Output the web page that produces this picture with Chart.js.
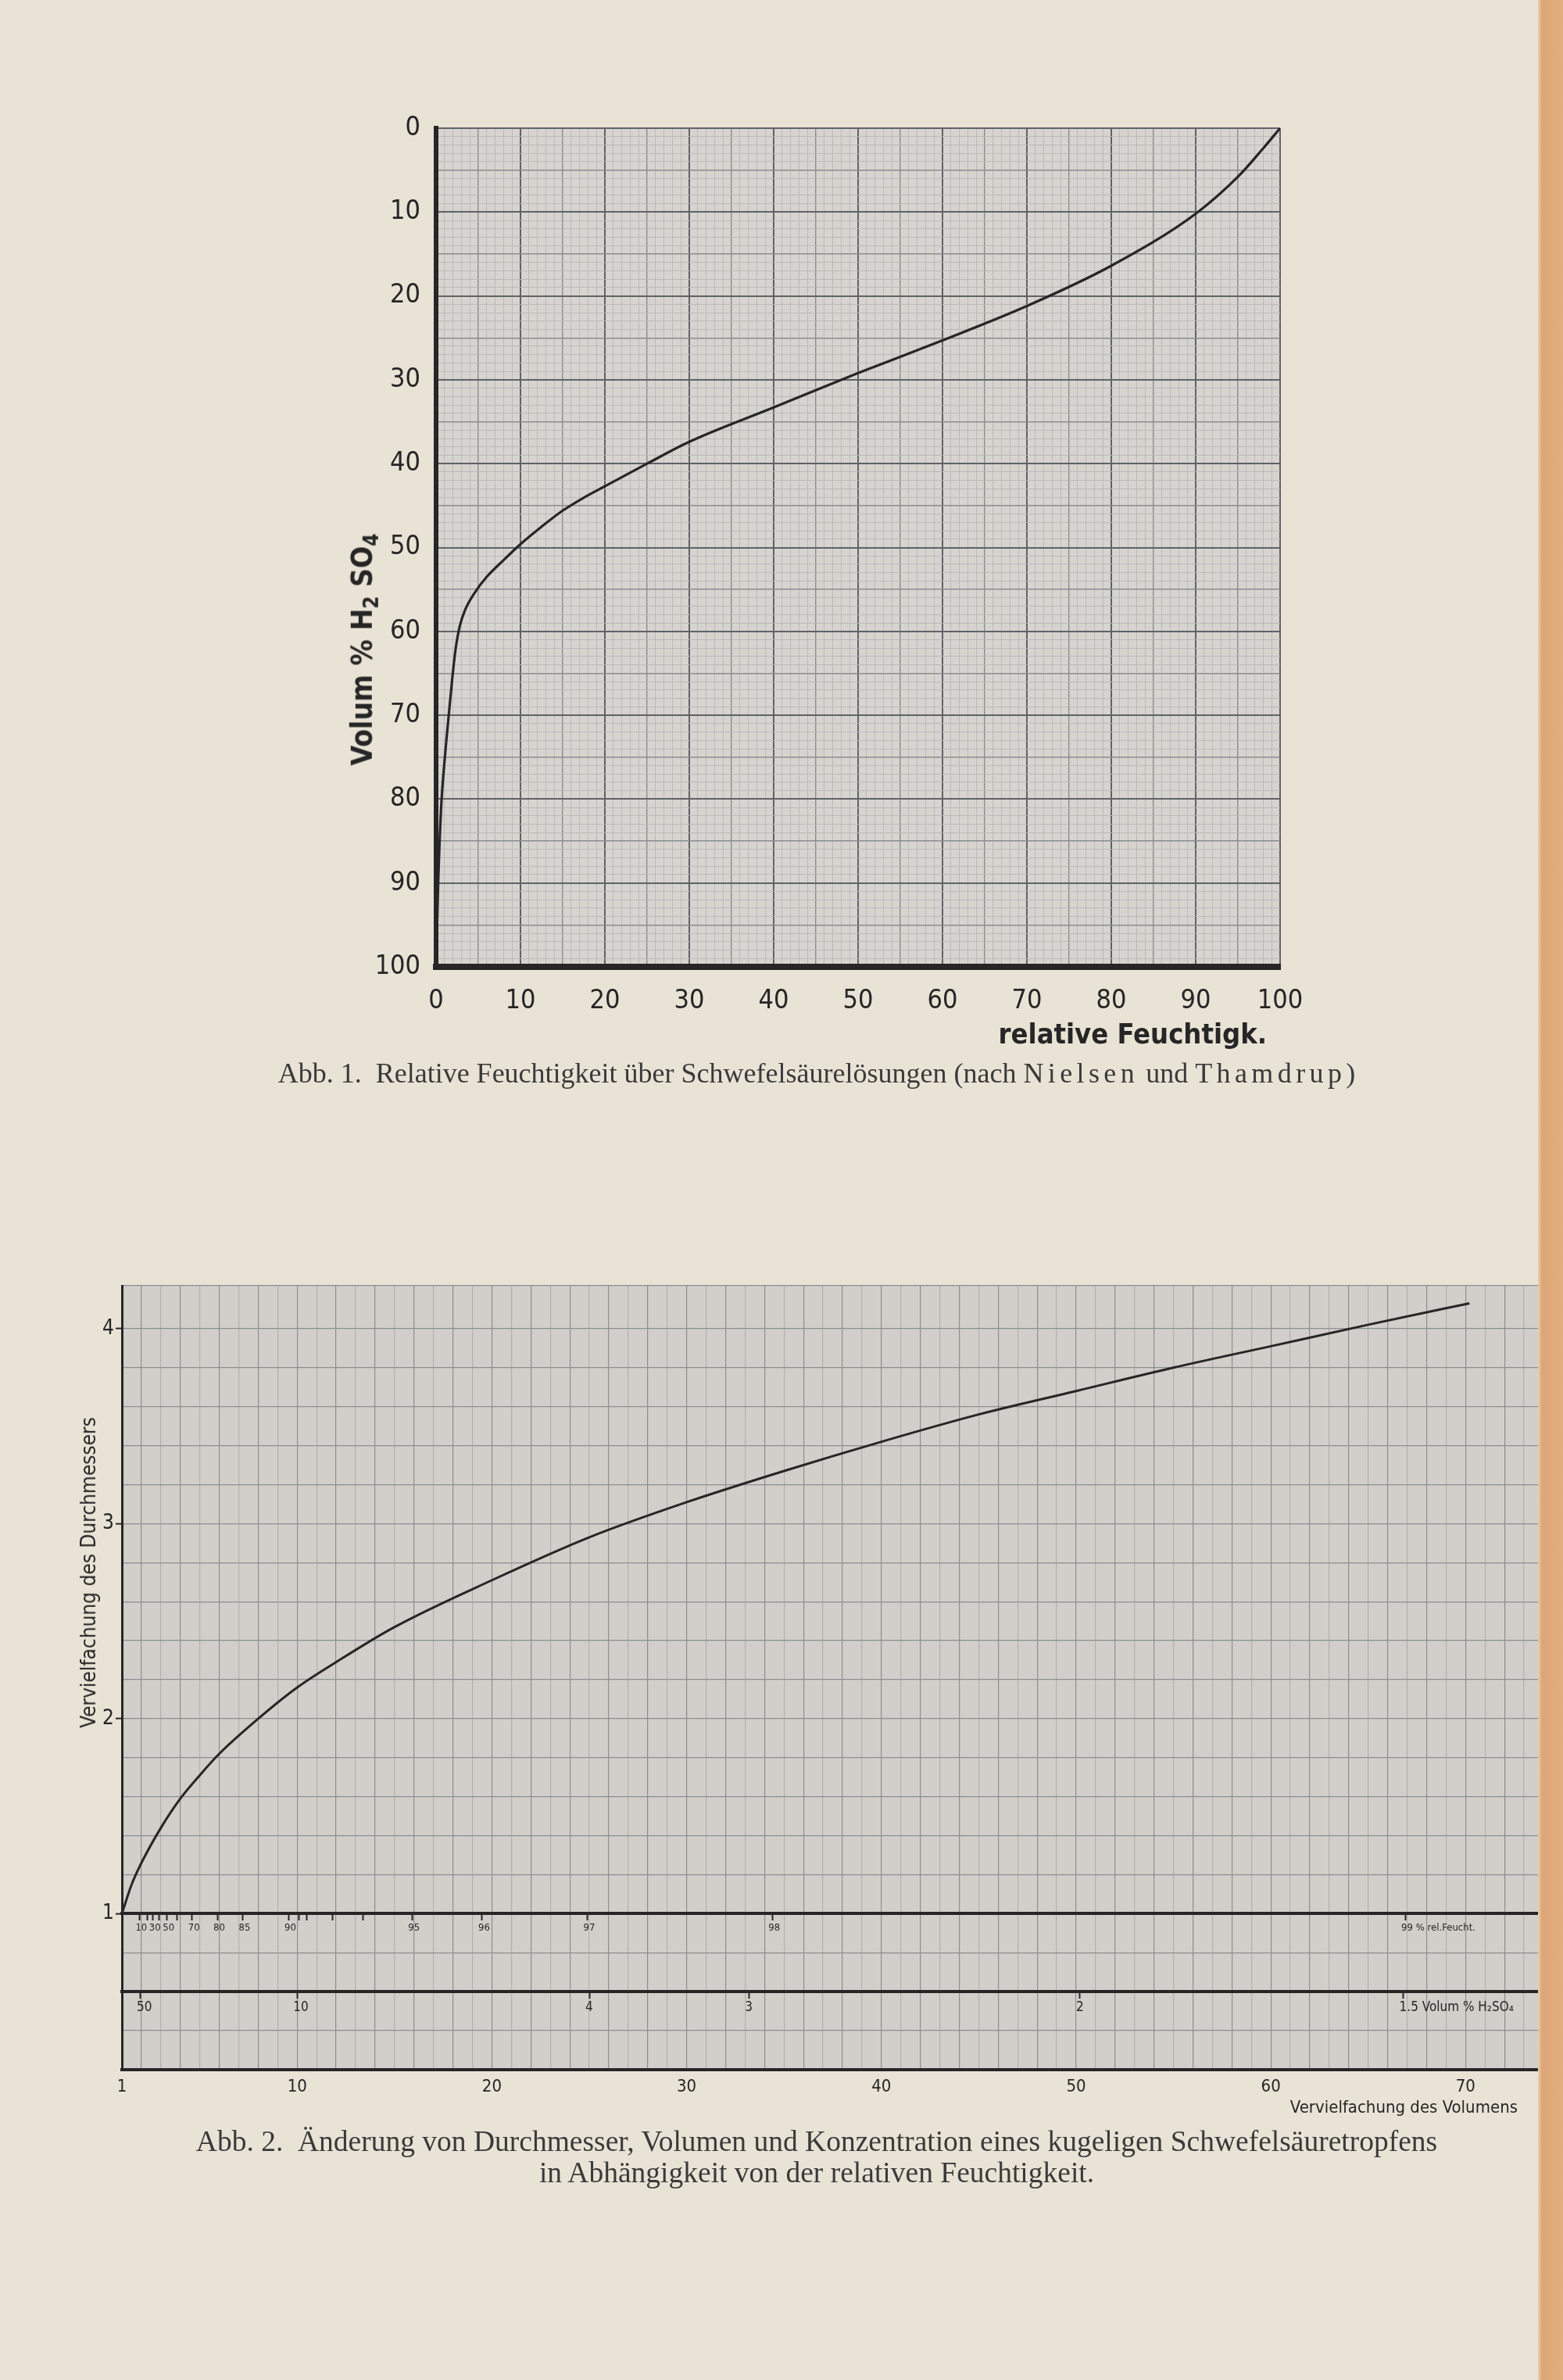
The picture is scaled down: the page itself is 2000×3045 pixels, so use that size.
<!DOCTYPE html>
<html lang="de">
<head>
<meta charset="utf-8">
<title>Abb. 1 / Abb. 2</title>
<script src="https://cdn.jsdelivr.net/npm/chart.js@4.4.1/dist/chart.umd.min.js"></script>
<style>
html, body { margin:0; padding:0; }
body { width:2000px; height:3045px; position:relative; overflow:hidden; background:#e9e3d6; color:#333; }
canvas { position:absolute; }
#abb1 { left:380px; top:120px; }
#abb2 { left:0; top:1600px; }
.text { position:absolute; white-space:nowrap; color:#262626; }
.senkrecht { transform:translate(-50%,-50%) rotate(-90deg); }
.rechts { transform:translate(-100%,-50%); }
.unterschrift { position:absolute; left:0; width:2090px; text-align:center; font-family:'Liberation Serif','Times New Roman',serif; color:#3a3a3a; }
.gesperrt { letter-spacing:0.15em; }
#rand { position:absolute; left:1968px; top:0; width:32px; height:3045px;
        background:linear-gradient(90deg,#e9d2b0 0,#dca676 5px,#e3ae7e 100%); }
</style>
</head>
<body>

<canvas id="abb1" width="1320" height="1240"></canvas>
<canvas id="abb2" width="2000" height="1120"></canvas>

<!-- ===== AXIS TITLES ===== -->
<div class="text senkrecht" style="left:466px; top:831px; font:bold 37px 'DejaVu Sans Condensed',sans-serif;">Volum % H<sub style="font-size:0.7em">2</sub> SO<sub style="font-size:0.7em">4</sub></div>
<div class="text rechts" style="left:1621px; top:1322px; font:bold 36px 'DejaVu Sans Condensed',sans-serif;">relative Feuchtigk.</div>

<div class="text senkrecht" style="left:113px; top:2012px; font:26px 'DejaVu Sans Condensed',sans-serif;">Vervielfachung des Durchmessers</div>
<div class="text rechts" style="left:1942px; top:2695px; font:22px 'DejaVu Sans Condensed',sans-serif;">Vervielfachung des Volumens</div>

<!-- ===== CAPTIONS ===== -->
<div class="unterschrift" style="top:1352px; font-size:36px;">Abb. 1.&nbsp; Relative Feuchtigkeit über Schwefelsäurelösungen (nach <span class="gesperrt">Nielsen</span> und <span class="gesperrt">Thamdrup</span>)</div>
<div class="unterschrift" style="top:2720px; font-size:37.5px; line-height:40px;">Abb. 2.&nbsp; Änderung von Durchmesser, Volumen und Konzentration eines kugeligen Schwefelsäuretropfens<br>in Abhängigkeit von der relativen Feuchtigkeit.</div>

<div id="rand"></div>

<script>
/* ===== DATA: Abb. 1 ===== */
const feuchte           = [0, 0.25, 0.6, 1.0, 1.5, 1.9, 2.3, 2.8, 3.5, 4.5, 6, 8, 10, 12.4, 15, 17.6, 20, 25, 30, 40, 50, 60, 70, 80, 90, 95, 98, 100];
const volumProzent      = [100, 90, 81, 75.5, 70, 65.8, 62.2, 59.4, 57.3, 55.5, 53.5, 51.5, 49.6, 47.6, 45.6, 44.0, 42.7, 40.0, 37.4, 33.3, 29.2, 25.3, 21.2, 16.4, 10.2, 5.8, 2.4, 0];
const feuchteTicks      = [0, 10, 20, 30, 40, 50, 60, 70, 80, 90, 100];
const volumProzentTicks = [0, 10, 20, 30, 40, 50, 60, 70, 80, 90, 100];

/* ===== DATA: Abb. 2 ===== */
const volumen          = [1, 1.5, 2, 3, 4, 5, 6, 8, 10, 12, 15, 20, 25, 30, 35, 40, 45, 50, 55, 60, 65, 70.2];
const durchmesser      = [1, 1.15, 1.26, 1.44, 1.59, 1.71, 1.82, 2.0, 2.16, 2.29, 2.47, 2.71, 2.93, 3.11, 3.27, 3.42, 3.56, 3.68, 3.80, 3.91, 4.02, 4.13];
const volumenTicks     = [1, 10, 20, 30, 40, 50, 60, 70];
const durchmesserTicks = [1, 2, 3, 4];

// rel. Feuchtigkeit scale, placed at the volume it belongs to
const feuchtLabels     = ['10', '', '30', '', '50', '', '70', '80', '85', '90', '', '', '', '', '95', '96', '97', '98', '99 % rel.Feucht.'];
const feuchtVolumen    = [1.9, 2.29, 2.6, 2.89, 3.3, 3.81, 4.6, 5.9, 7.2, 9.55, 10.1, 10.5, 11.8, 13.4, 15.9, 19.5, 24.9, 34.4, 66.9];

// Volum % H2SO4 scale
const konzLabels       = ['50', '10', '4', '3', '2', '1.5 Volum % H\u2082SO\u2084'];
const konzVolumen      = [1.96, 10, 25, 33.2, 50.2, 66.8];

const TINTE = '#262626';
const ZIFFERN = "'Liberation Sans Narrow','DejaVu Sans Condensed',sans-serif";

// grey graph paper behind the plot
const papier = {
    id:'papier',
    beforeDraw(chart, args, opts){
        const {ctx, chartArea:a} = chart;
        ctx.save();
        ctx.fillStyle = opts.color;
        ctx.fillRect(a.left, a.top, a.right - a.left, a.bottom - a.top);
        ctx.restore();
    }
};

const breite = px => scale => { scale.width = px; };
const hoehe  = px => scale => { scale.height = px; };

function netzFarbe(v){
    if(v % 10 === 0) return '#606268';
    if(v % 5 === 0) return '#8a8c92';
    return '#b6b7ba';
}
function netzStaerke(v){
    if(v % 10 === 0) return 2;
    if(v % 5 === 0) return 1.4;
    return 0.9;
}

/* ===== ABB. 1 ===== */

new Chart(document.getElementById('abb1'),{
    type:'scatter',
    data:{
        datasets:[{
            data:feuchte.map((x,i)=>({x:x, y:volumProzent[i]})),
            showLine:true,
            borderColor:TINTE,
            borderWidth:3.2,
            pointRadius:0,
            cubicInterpolationMode:'monotone',
            fill:false
        }]
    },
    options:{
        responsive:false,
        animation:false,
        devicePixelRatio:1,
        layout:{padding:{top:44, right:62, left:0, bottom:0}},
        plugins:{
            legend:{display:false},
            tooltip:{enabled:false},
            papier:{color:'#d7d4cf'}
        },
        scales:{
            x:{
                type:'linear', min:0, max:100,
                afterFit:hoehe(123),
                ticks:{
                    stepSize:1, autoSkip:false, maxRotation:0, padding:24,
                    color:TINTE, font:{family:ZIFFERN, size:34},
                    callback:v => feuchteTicks.includes(v) ? String(v) : ''
                },
                grid:{color:c => netzFarbe(c.tick.value), lineWidth:c => netzStaerke(c.tick.value), drawTicks:false},
                border:{color:TINTE, width:8}
            },
            y:{
                type:'linear', reverse:true, min:0, max:100,
                afterFit:breite(178),
                ticks:{
                    stepSize:1, autoSkip:false, padding:20,
                    color:TINTE, font:{family:ZIFFERN, size:34},
                    callback:v => volumProzentTicks.includes(v) ? String(v) : ''
                },
                grid:{color:c => netzFarbe(c.tick.value), lineWidth:c => netzStaerke(c.tick.value), drawTicks:false},
                border:{color:TINTE, width:6}
            }
        }
    },
    plugins:[papier]
});

/* ===== ABB. 2 ===== */

const rund = v => Math.round(v * 10) / 10;

new Chart(document.getElementById('abb2'),{
    type:'scatter',
    data:{
        datasets:[{
            data:volumen.map((x,i)=>({x:x, y:durchmesser[i]})),
            showLine:true,
            borderColor:TINTE,
            borderWidth:3,
            pointRadius:0,
            cubicInterpolationMode:'monotone',
            fill:false
        }]
    },
    options:{
        responsive:false,
        animation:false,
        devicePixelRatio:1,
        layout:{padding:{top:45, right:25, left:0, bottom:0}},
        plugins:{
            legend:{display:false},
            tooltip:{enabled:false},
            papier:{color:'#d2cfca'}
        },
        scales:{
            x:{
                type:'linear', min:1, max:74,
                afterFit:hoehe(72),
                ticks:{
                    stepSize:1, autoSkip:false, maxRotation:0, padding:9,
                    color:TINTE, font:{family:ZIFFERN, size:22},
                    callback:v => volumenTicks.includes(v) ? String(v) : ''
                },
                grid:{color:c => c.tick.value % 2 === 0 ? '#8c8e93' : '#b0b1b4', lineWidth:1.2, drawTicks:false},
                border:{color:TINTE, width:4}
            },
            y:{
                type:'linear', min:0.2, max:4.22,
                afterFit:breite(156),
                ticks:{
                    stepSize:0.2, autoSkip:false, padding:2,
                    color:TINTE, font:{family:ZIFFERN, size:26},
                    callback:v => durchmesserTicks.includes(rund(v)) ? String(rund(v)) : ''
                },
                grid:{
                    color:'#8c8e93', lineWidth:1.2, tickLength:8, tickWidth:2,
                    tickColor:c => durchmesserTicks.includes(rund(c.tick.value)) ? TINTE : 'rgba(0,0,0,0)'
                },
                border:{color:TINTE, width:3}
            },
            feucht:{
                type:'linear', axis:'x', min:1, max:74,
                position:{y:1},
                afterFit:hoehe(0),
                afterBuildTicks:s => { s.ticks = feuchtVolumen.map(v => ({value:v})); },
                ticks:{
                    autoSkip:false, maxRotation:0, minRotation:0, align:'start', labelOffset:-5, padding:3,
                    color:TINTE, font:{family:ZIFFERN, size:13},
                    callback:(v,i) => feuchtLabels[i]
                },
                grid:{drawOnChartArea:false, tickLength:7, tickWidth:2, tickColor:TINTE},
                border:{color:TINTE, width:4}
            },
            konz:{
                type:'linear', axis:'x', min:1, max:74,
                position:{y:0.6},
                afterFit:hoehe(0),
                afterBuildTicks:s => { s.ticks = konzVolumen.map(v => ({value:v})); },
                ticks:{
                    autoSkip:false, maxRotation:0, minRotation:0, align:'start', labelOffset:-5, padding:3,
                    color:TINTE, font:{family:ZIFFERN, size:17},
                    callback:(v,i) => konzLabels[i]
                },
                grid:{drawOnChartArea:false, tickLength:7, tickWidth:2, tickColor:TINTE},
                border:{color:TINTE, width:4}
            }
        }
    },
    plugins:[papier]
});
</script>
</body>
</html>
